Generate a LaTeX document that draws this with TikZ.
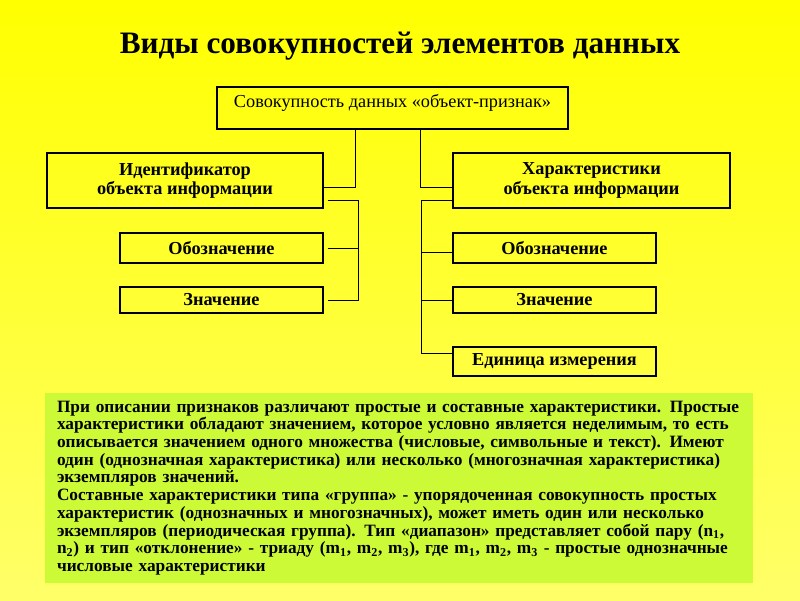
\documentclass[tikz,border=0pt]{standalone}
\usepackage{fontspec}
\setmainfont{Liberation Serif}
\definecolor{bgtop}{RGB}{255,255,0}
\definecolor{bgbot}{RGB}{255,255,105}
\definecolor{notefill}{RGB}{205,250,55}

\begin{document}
\begin{tikzpicture}[
    frame/.style={draw=black, line width=0.9pt, inner sep=0pt, align=center,
        font=\bfseries\fontsize{13}{14}\selectfont},
    link/.style={draw=black, line width=0.7pt}
]

% background
\shade[top color=bgtop, bottom color=bgbot] (0,0) rectangle (20,15);

% title
\node[font=\bfseries\fontsize{22.2}{25}\selectfont] (title) at (10,13.85)
    {Виды совокупностей элементов данных};

% top box
\node[frame, line width=1.8pt, minimum width=8.775cm, text height=0.525cm,
    text depth=0.525cm, font=\fontsize{13}{15}\selectfont] (top) at (9.8125,12.3)
    {Совокупность данных «объект-признак»};

% left branch
\node[frame, minimum width=6.9cm, minimum height=1.375cm] (lid) at (4.625,10.4875)
    {Идентификатор\\объекта информации};
\node[frame, minimum width=5.075cm, minimum height=0.75cm] (lobo) at (5.5375,8.8) {Обозначение};
\node[frame, minimum width=5.075cm, minimum height=0.65cm] (lval) at (5.5375,7.5) {Значение};

% right branch
\node[frame, minimum width=6.925cm, minimum height=1.375cm] (rid) at (14.7875,10.4875)
    {Характеристики\\объекта информации};
\node[frame, minimum width=5.075cm, minimum height=0.75cm] (robo) at (13.8625,8.8) {Обозначение};
\node[frame, minimum width=5.075cm, minimum height=0.65cm] (rval) at (13.8625,7.5) {Значение};
\node[frame, minimum width=5.075cm, minimum height=0.725cm] (runit) at (13.8625,5.9625) {Единица измерения};

% connectors
\coordinate (jl) at (8.875,10.325);
\coordinate (jr) at (10.52,10.325);
\coordinate (bl) at (8.95,9.98);
\coordinate (br) at (10.525,9.98);

\draw[link] (top.south -| jl) -- (jl) -- (jl -| lid.east);
\draw[link] (top.south -| jr) -- (jr) -- (jr -| rid.west);

\draw[link] ([xshift=1mm]bl -| lid.east) -- (bl) |- ([xshift=1mm]lval.east);
\draw[link] ([xshift=1mm]lobo.east) -- (lobo.east -| bl);

\draw[link] (rid.west |- br) -- (br) |- ([yshift=2mm]runit.west);
\draw[link] ([yshift=-1mm]robo.west) -- ([yshift=-1mm]robo.west -| br);
\draw[link] (rval.west) -- (rval.west -| br);

% note
\node[frame, draw=none, fill=notefill, minimum width=17.7cm, minimum height=4.75cm,
    text width=17.1cm, inner xsep=0.3cm, align=left,
    font=\bfseries\fontsize{12.3}{12.6}\selectfont] (note) at (9.975,2.8)
{При описании признаков различают простые и составные характеристики. Простые\\
характеристики обладают значением, которое условно является неделимым, то есть\\
описывается значением одного множества (числовые, символьные и текст). Имеют\\
один (однозначная характеристика) или несколько (многозначная характеристика)\\
экземпляров значений.\\
Составные характеристики типа «группа» - упорядоченная совокупность простых\\
характеристик (однозначных и многозначных), может иметь один или несколько\\
экземпляров (периодическая группа). Тип «диапазон» представляет собой пару (n\textsubscript{1},\\
n\textsubscript{2}) и тип «отклонение» - триаду (m\textsubscript{1}, m\textsubscript{2}, m\textsubscript{3}), где m\textsubscript{1}, m\textsubscript{2}, m\textsubscript{3} - простые однозначные\\
числовые характеристики};

\end{tikzpicture}
\end{document}
